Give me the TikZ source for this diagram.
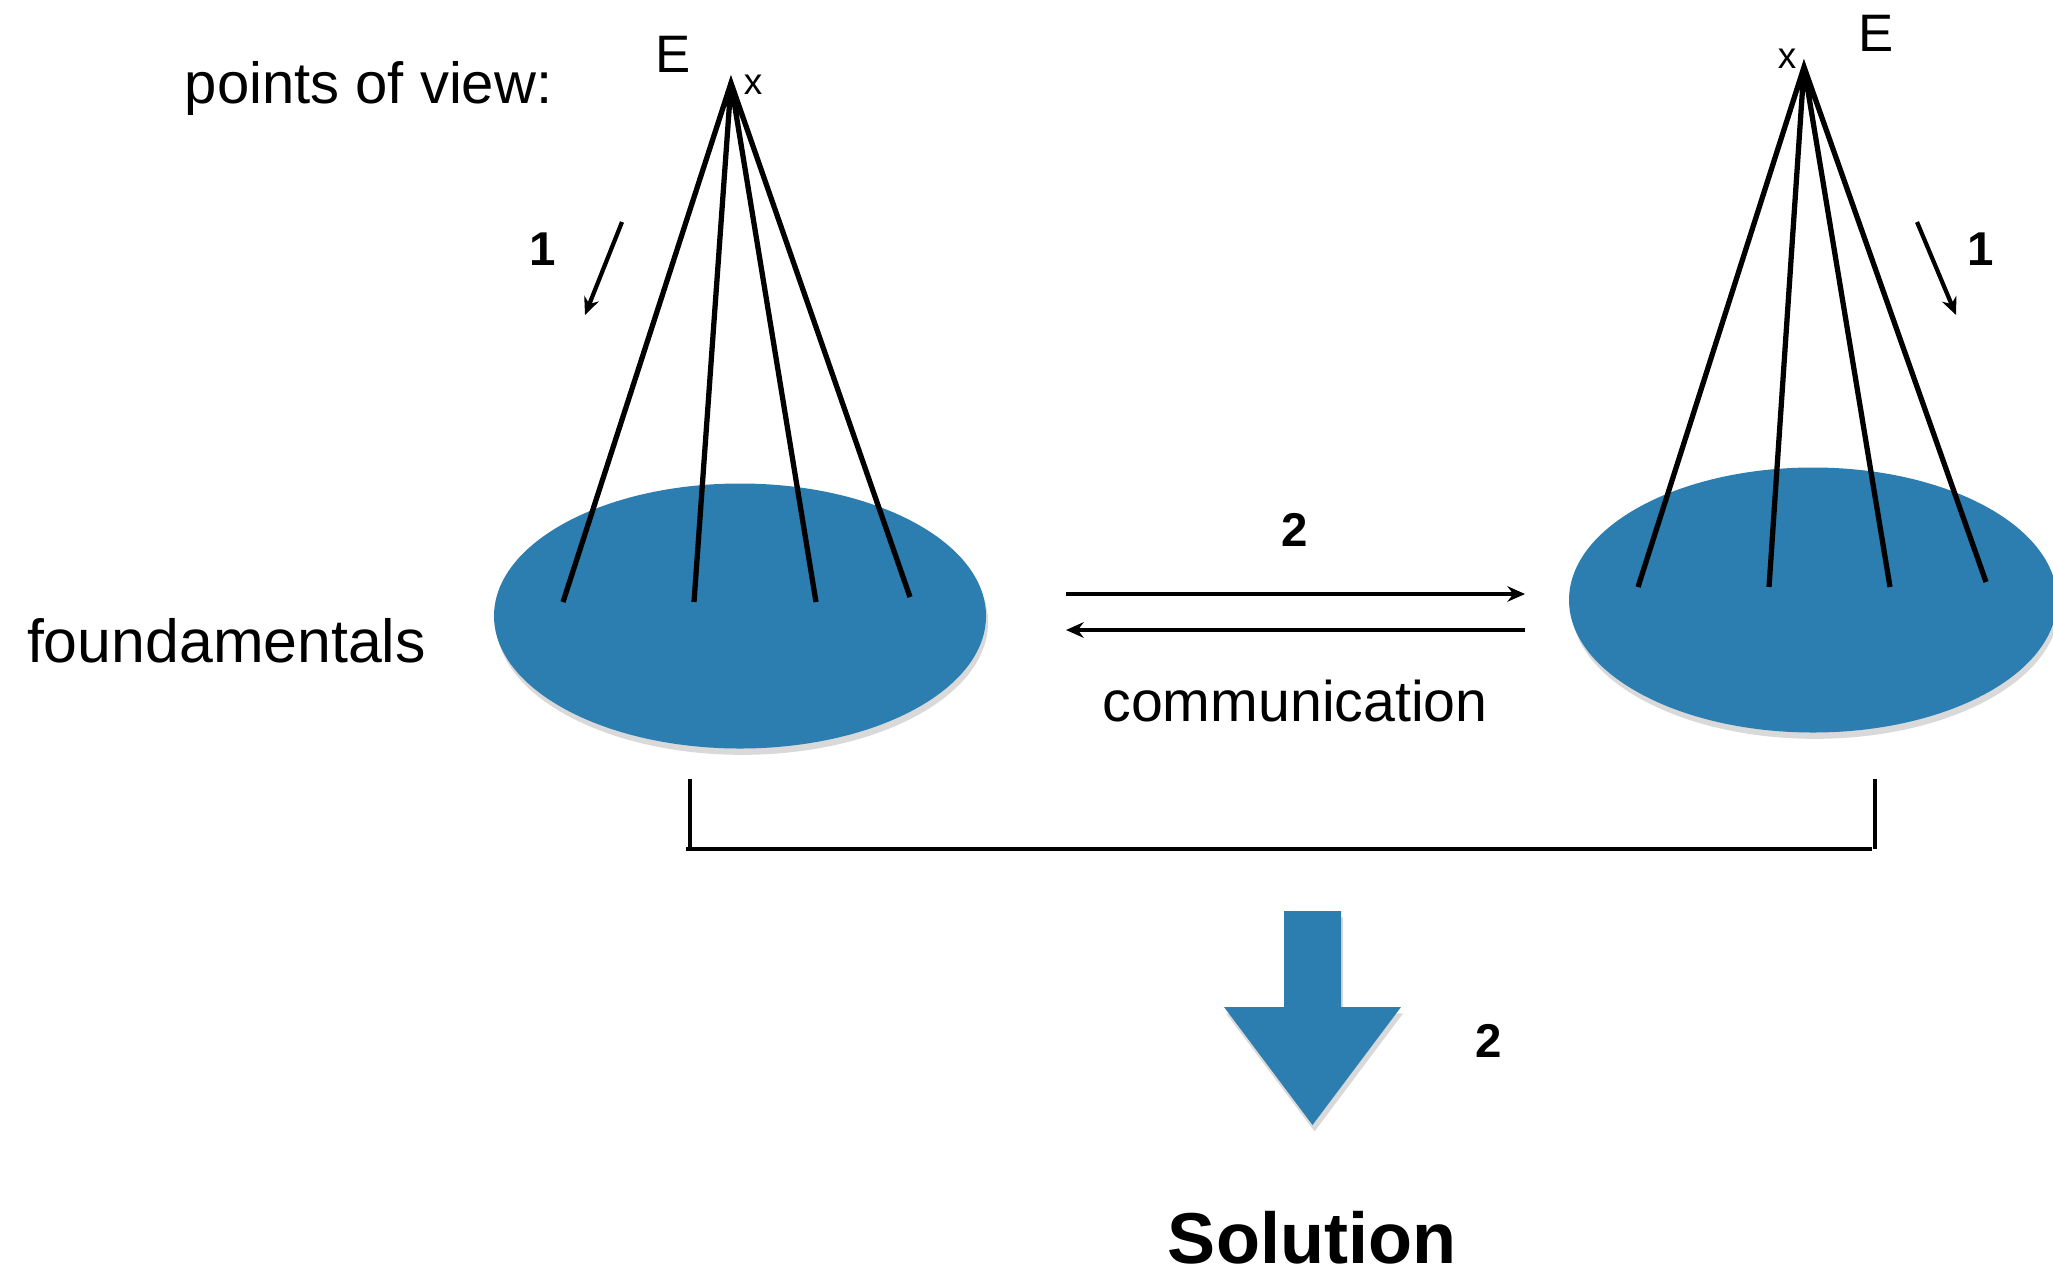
\documentclass[tikz,border=0pt]{standalone}
\usepackage{fontspec}
\setmainfont{Liberation Sans}
\usetikzlibrary{arrows.meta,positioning,shapes.geometric,shadows}
\definecolor{disc}{RGB}{44,125,176}
\begin{document}
\begin{tikzpicture}[>={Stealth[length=5pt,width=4.4pt]},font=\fontsize{16.5}{20}\selectfont]
\tikzstyle{base}=[ellipse,fill=disc,minimum width=4.92cm,minimum height=2.65cm,inner sep=0pt,drop shadow={shadow xshift=0.6pt,shadow yshift=-1.8pt,opacity=0.3}]
\tikzstyle{ray}=[line width=1.5pt]
\tikzstyle{num}=[font=\fontsize{13.5}{16}\selectfont\bfseries]
\tikzstyle{eye}=[font=\fontsize{15}{18}\selectfont,inner sep=0pt]
\tikzstyle{pt}=[font=\fontsize{10.5}{12}\selectfont,inner sep=0pt]
\useasboundingbox (0,0) rectangle (20.53,-12.73);
\node[base] (fl) at (7.40,-6.16) {}; \node[base,minimum width=4.88cm] (fr) at (18.13,-6.00) {};
\coordinate (pl) at (7.31,-0.83); \coordinate (pr) at (18.04,-0.67);
\coordinate (l1) at (5.63,-6.02); \coordinate (l2) at (6.94,-6.02); \coordinate (l3) at (8.16,-6.02); \coordinate (l4) at (9.10,-5.97);
\coordinate (r1) at (16.38,-5.87); \coordinate (r2) at (17.69,-5.87); \coordinate (r3) at (18.90,-5.87); \coordinate (r4) at (19.86,-5.82);
\draw[ray] (l1) -- (pl) -- (l4) (pl) -- (l2) (pl) -- (l3);
\draw[ray] (r1) -- (pr) -- (r4) (pr) -- (r2) (pr) -- (r3);
\node[eye] (el) at (6.73,-0.54) {E}; \node[pt] (xl) at (7.53,-0.85) {x};
\node[eye] (er) at (18.76,-0.33) {E}; \node[pt] (xr) at (17.87,-0.59) {x};
\node[anchor=base] (pov) at (3.685,-1.03) {points of view:};
\node[anchor=base,font=\fontsize{17.3}{20}\selectfont] (fnd) at (2.265,-6.62) {foundamentals};
\coordinate (a1) at (6.22,-2.22); \coordinate (b1) at (5.85,-3.15);
\coordinate (a2) at (19.17,-2.22); \coordinate (b2) at (19.56,-3.15);
\draw[->,line width=1.2pt] (a1) -- (b1); \draw[->,line width=1.2pt] (a2) -- (b2);
\node[num] (n1) at (5.43,-2.49) {1}; \node[num] (n2) at (19.81,-2.49) {1};
\coordinate (cl) at (10.66,-5.94); \coordinate (cr) at (15.25,-5.94);
\coordinate (dl) at (10.66,-6.30); \coordinate (dr) at (15.25,-6.30);
\draw[->,line width=1.05pt] (cl) -- (cr); \draw[->,line width=1.05pt] (dr) -- (dl);
\node[num] (n3) at (12.95,-5.30) {2};
\node[anchor=base,font=\fontsize{16.3}{20}\selectfont] (com) at (12.95,-7.21) {communication};
\coordinate (kl) at (6.90,-7.79); \coordinate (kr) at (18.75,-7.79);
\coordinate (hl) at (6.86,-8.49); \coordinate (hr) at (18.72,-8.49);
\draw[line width=1pt] (kl) -- (kl |- hl) (kr) -- (kr |- hr);
\draw[line width=1.4pt] (hl) -- (hr);
\fill[disc,drop shadow={shadow xshift=0.6pt,shadow yshift=-1.8pt,opacity=0.3}] (12.84,-9.11) -- (13.41,-9.11) -- (13.41,-10.07) -- (14.01,-10.07) -- (13.125,-11.25) -- (12.24,-10.07) -- (12.84,-10.07) -- cycle;
\node[num] (n4) at (14.89,-10.41) {2};
\node[anchor=base,font=\fontsize{20.5}{24}\selectfont\bfseries] (sol) at (13.12,-12.63) {Solution};
\end{tikzpicture}
\end{document}
